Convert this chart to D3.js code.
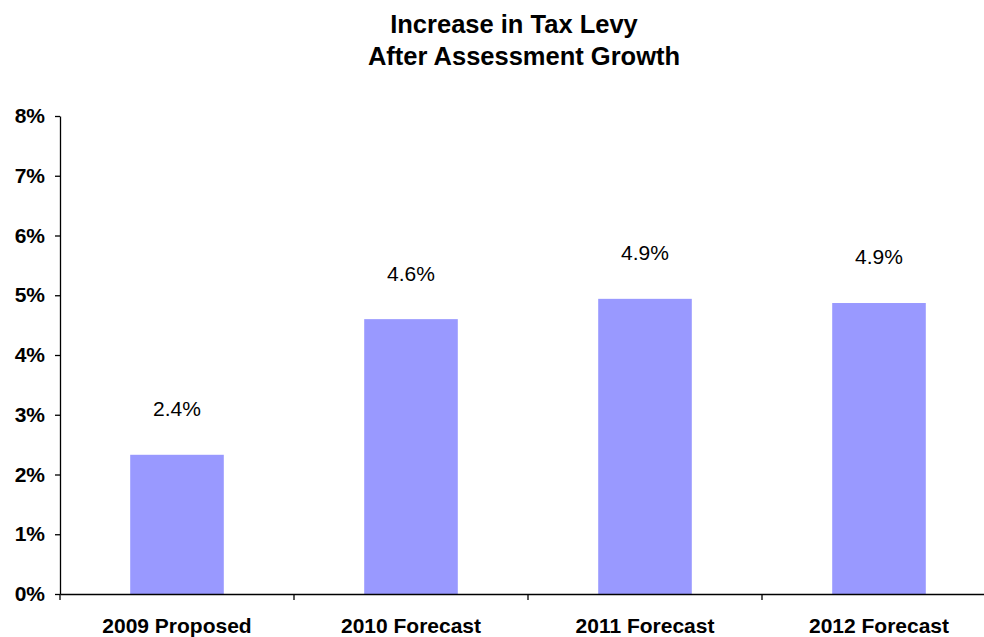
<!DOCTYPE html>
<html>
<head>
<meta charset="utf-8">
<script src="https://cdn.jsdelivr.net/npm/d3@7"></script>
<style>
  body { margin: 0; background: #fff; }
  svg { display: block; font-family: "Liberation Sans", Arial, sans-serif; }
</style>
</head>
<body>
<div id="chart"></div>
<script>
// Data
const categories = ['2009 Proposed', '2010 Forecast', '2011 Forecast', '2012 Forecast'];
const values = [2.33, 4.60, 4.94, 4.87];
const valueLabels = ['2.4%', '4.6%', '4.9%', '4.9%'];
const yTicks = [0, 1, 2, 3, 4, 5, 6, 7, 8];
const titleLines = ['Increase in Tax Levy', 'After Assessment Growth'];

const width = 984, height = 637;
const margin = { top: 116, right: -12, bottom: 43, left: 60 };

const svg = d3.select('#chart').append('svg')
    .attr('width', width).attr('height', height);

const x = d3.scaleBand()
    .domain(categories)
    .range([margin.left, width - margin.right])
    .paddingInner(0.6)
    .paddingOuter(0.3);

const y = d3.scaleLinear()
    .domain([0, 8])
    .range([height - margin.bottom, margin.top]);

// Title (first line sits a bit left, like the original)
svg.append('g').selectAll('text')
    .data(titleLines)
    .join('text')
    .attr('x', (d, i) => i === 0 ? 514 : 524)
    .attr('y', (d, i) => 33 + i * 32)
    .attr('text-anchor', 'middle')
    .attr('font-size', 25.5)
    .attr('font-weight', 'bold')
    .text(d => d);

// Bars
svg.append('g').selectAll('rect')
    .data(values)
    .join('rect')
    .attr('x', (d, i) => x(categories[i]))
    .attr('y', d => y(d))
    .attr('width', x.bandwidth())
    .attr('height', d => y(0) - y(d))
    .attr('fill', '#9999ff');

// Value labels
svg.append('g').selectAll('text')
    .data(values)
    .join('text')
    .attr('x', (d, i) => x(categories[i]) + x.bandwidth() / 2)
    .attr('y', d => y(d) - 46)
    .attr('dy', '0.35em')
    .attr('text-anchor', 'middle')
    .attr('font-size', 21)
    .text((d, i) => valueLabels[i]);

// Y axis
const yAxis = svg.append('g')
    .attr('transform', `translate(${margin.left},0)`)
    .call(d3.axisLeft(y).tickValues(yTicks).tickSize(5).tickSizeOuter(0).tickPadding(10)
        .tickFormat(d => d + '%'));
yAxis.selectAll('text')
    .attr('font-size', 21).attr('font-weight', 'bold').attr('fill', '#000')
    .attr('font-family', '"Liberation Sans", Arial, sans-serif');
yAxis.selectAll('line, path').attr('stroke', '#000').attr('stroke-width', 1.3);

// X axis
const xAxis = svg.append('g')
    .attr('transform', `translate(0,${y(0)})`)
    .call(d3.axisBottom(x).tickSize(0).tickSizeOuter(0).tickPadding(24));
xAxis.select('.domain').attr('stroke', '#000').attr('stroke-width', 1.3);
xAxis.selectAll('text')
    .attr('font-size', 21).attr('font-weight', 'bold').attr('fill', '#000')
    .attr('font-family', '"Liberation Sans", Arial, sans-serif');

// category boundary ticks
xAxis.selectAll('line.boundary')
    .data(d3.range(categories.length + 1))
    .join('line')
    .classed('boundary', true)
    .attr('x1', i => margin.left + i * x.step())
    .attr('x2', i => margin.left + i * x.step())
    .attr('y1', 0).attr('y2', 6)
    .attr('stroke', '#000').attr('stroke-width', 1.3);
</script>
</body>
</html>
